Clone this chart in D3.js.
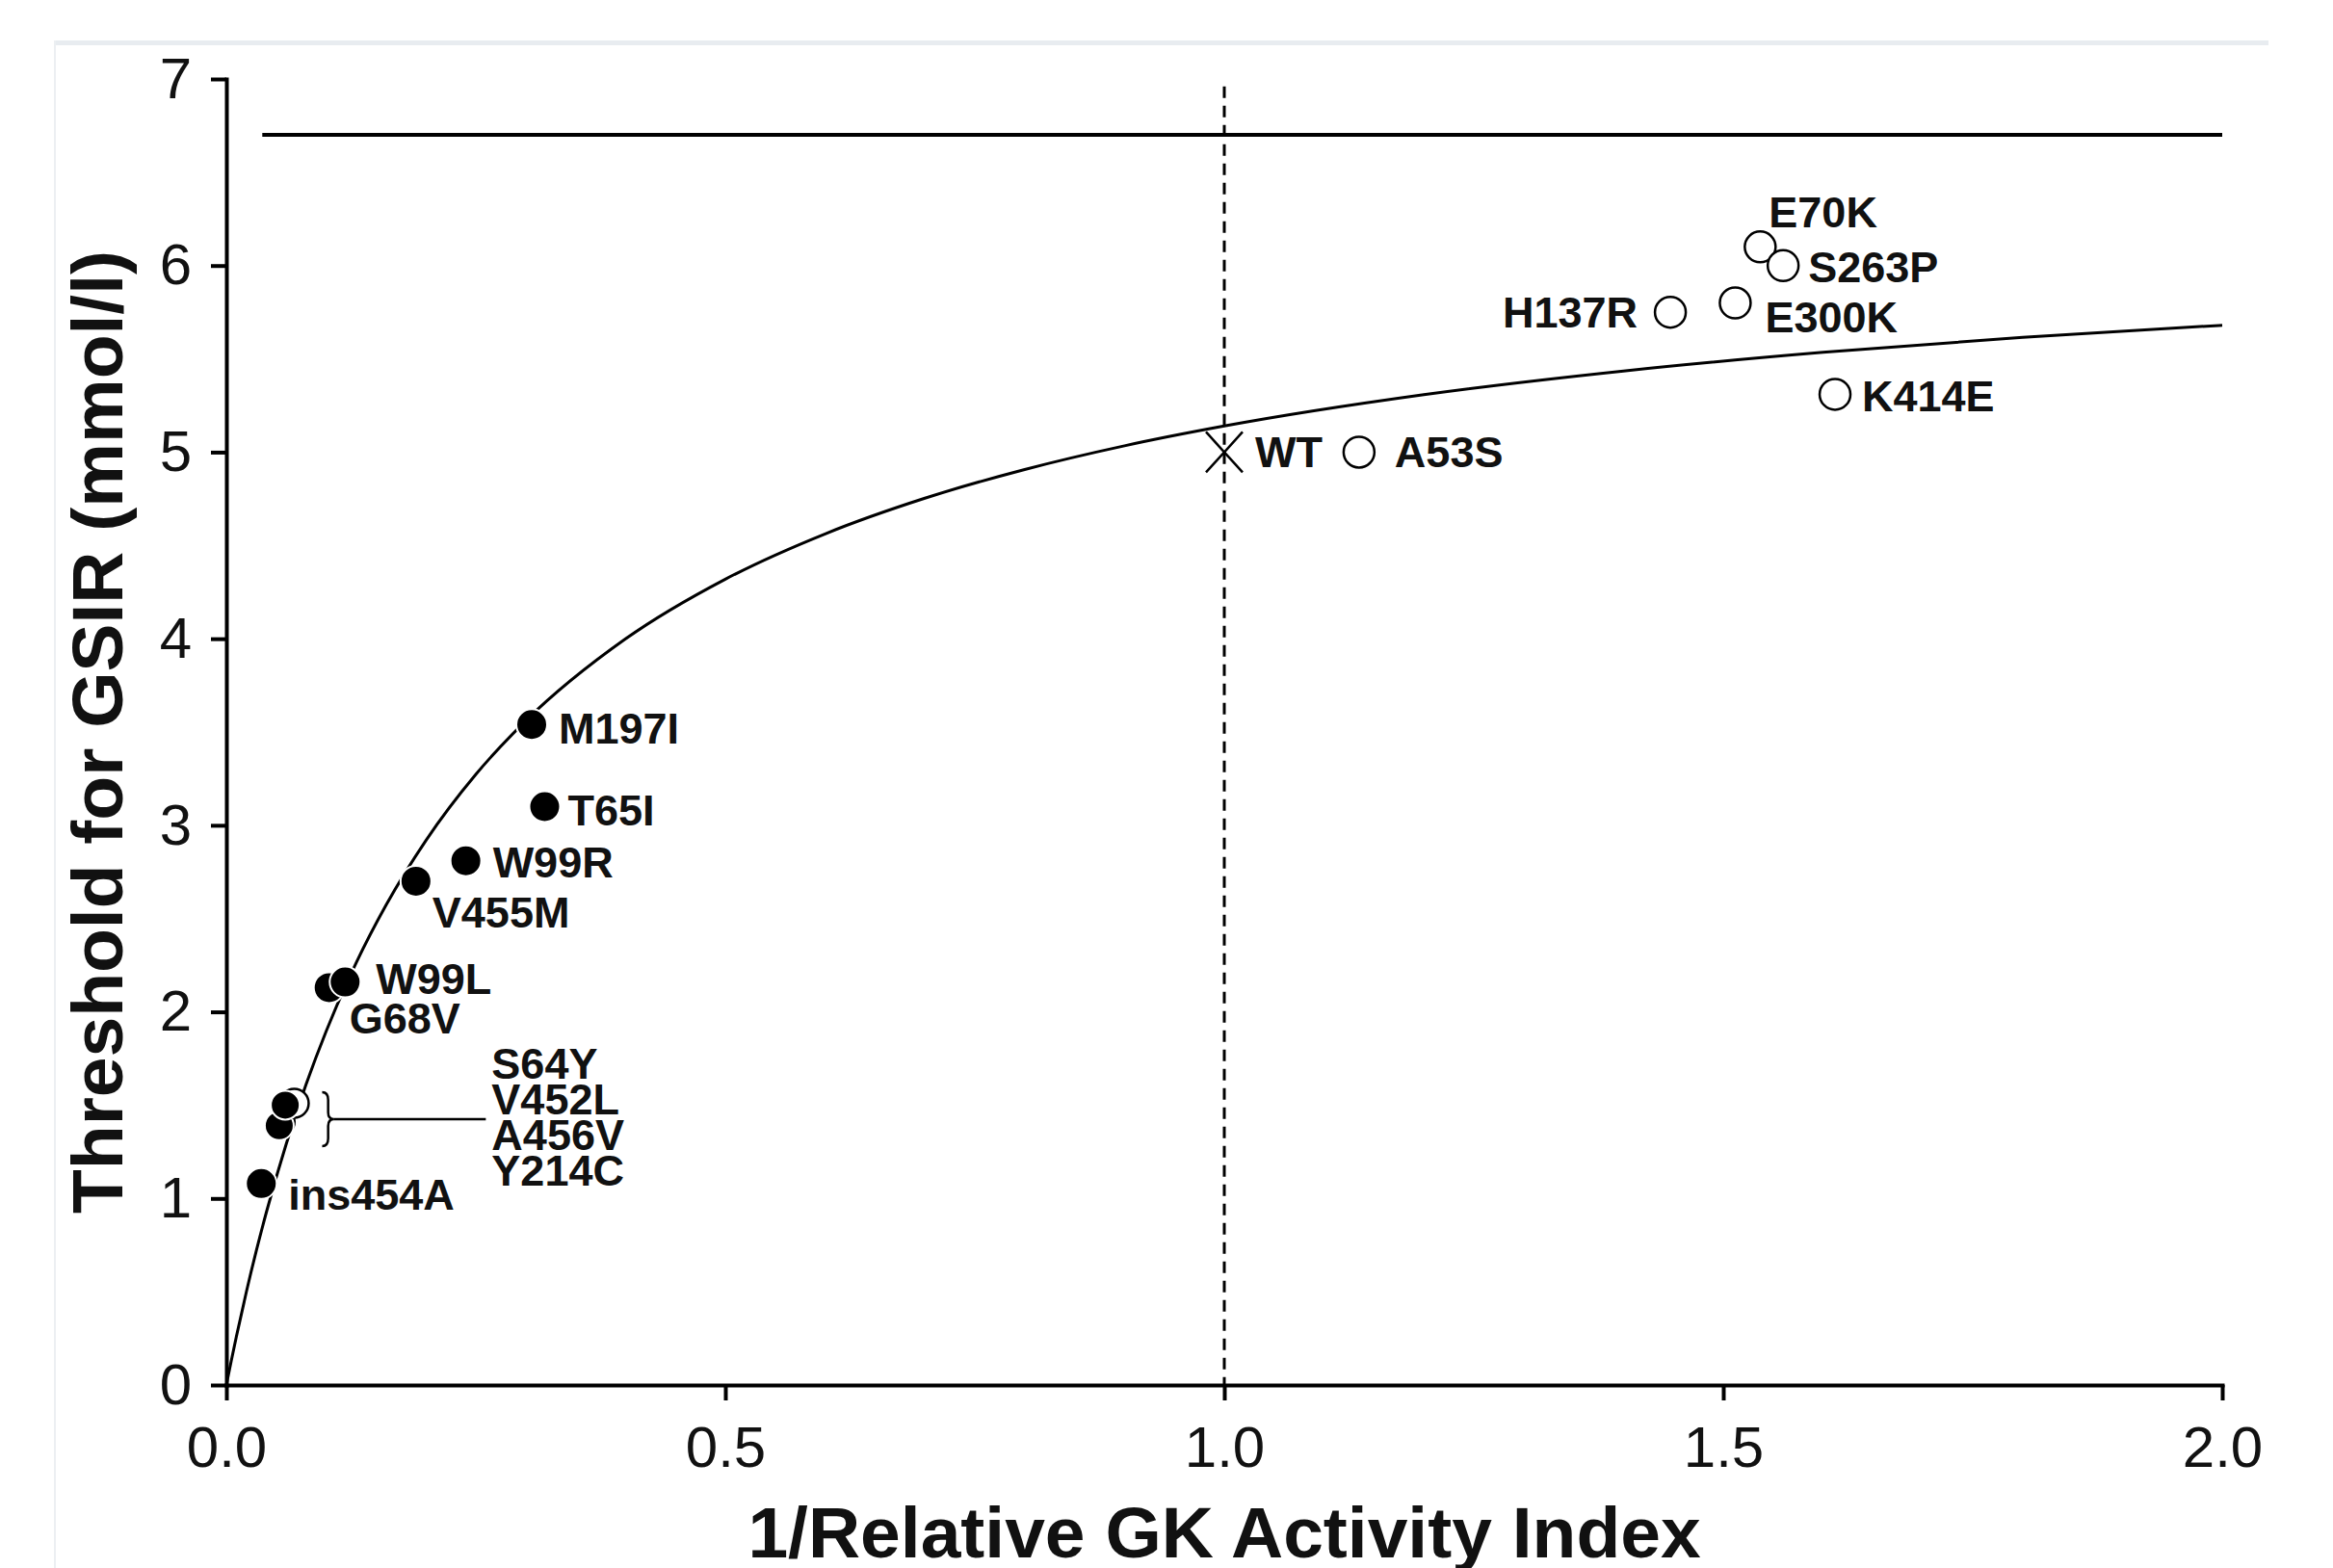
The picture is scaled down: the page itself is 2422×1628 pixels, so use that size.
<!DOCTYPE html>
<html>
<head>
<meta charset="UTF-8">
<style>
body { margin: 0; background: #fff; }
svg { display: block; font-family: "Liberation Sans", Arial, sans-serif; }
.axis path, .axis line { stroke: #000; stroke-width: 4px; }
.axis path { stroke-linecap: square; }
.axis text { font-size: 60px; fill: #111; }
.lab { font-size: 45px; font-weight: bold; fill: #111; }
.title { font-size: 75px; font-weight: bold; fill: #111; }
</style>
</head>
<body>
<svg id="chart"></svg>
<script src="https://d3js.org/d3.v7.min.js"></script>
<script>

// activating mutations (filled dots)
const filledNames = ["M197I", "T65I", "W99R", "V455M", "G68V", "W99L", "ins454A"];
const filledX = [0.306, 0.319, 0.240, 0.190, 0.103, 0.119, 0.035];
const filledY = [3.54, 3.10, 2.81, 2.70, 2.13, 2.16, 1.08];

// the bracketed cluster
const groupNames = ["S64Y", "V452L", "A456V", "Y214C"];
const groupX = [0.056, 0.053, 0.068, 0.059];
const groupY = [1.41, 1.39, 1.51, 1.50];
const groupOpen = [false, false, true, false];

// inactivating mutations (open circles)
const openNames = ["A53S", "H137R", "E300K", "E70K", "S263P", "K414E"];
const openX = [1.135, 1.447, 1.512, 1.537, 1.560, 1.612];
const openY = [5.00, 5.75, 5.80, 6.10, 6.00, 5.31];

// wild type
const wtX = 1.0, wtY = 5.0;

// fitted curve
const curveX = [0, 0.005, 0.01, 0.02, 0.03, 0.04, 0.06, 0.08, 0.1, 0.13, 0.16, 0.2, 0.25, 0.3, 0.4, 0.5, 0.6, 0.7, 0.8, 0.9, 1.0, 1.2, 1.4, 1.6, 1.8, 2.0];
const curveY = [0, 0.132, 0.259, 0.498, 0.719, 0.924, 1.292, 1.613, 1.896, 2.262, 2.572, 2.919, 3.273, 3.560, 3.999, 4.319, 4.562, 4.753, 4.907, 5.034, 5.140, 5.308, 5.435, 5.535, 5.615, 5.680];

// reference levels
const upperLevel = 6.7, upperFrom = 0.036;
const dashTop = 6.96;

const xTicks = [0, 0.5, 1, 1.5, 2];
const yTicks = [0, 1, 2, 3, 4, 5, 6, 7];

// label nudges in px (dx, dy, anchor)
const nudge = {
  "M197I": [28, 20], "T65I": [24, 20], "W99R": [28, 17], "V455M": [17, 48],
  "W99L": [32, 12], "G68V": [21, 48], "ins454A": [28, 27],
  "E70K": [9, -20], "S263P": [26, 17], "H137R": [-34, 16, "end"],
  "E300K": [31, 31], "K414E": [28, 18], "A53S": [37, 16], "WT": [32, 16]
};

let width = 2422, height = 1628;
let svg = d3.select("#chart").attr("width", width).attr("height", height);

// page frame
svg.append("rect").attr("x", 57).attr("y", 42).attr("width", 2298).attr("height", 5).attr("fill", "#e8ecf0");
svg.append("rect").attr("x", 56).attr("y", 42).attr("width", 2).attr("height", height - 42).attr("fill", "#eceff2");

let x = d3.scaleLinear().domain([0, 2]).range([235, 2307]);
let y = d3.scaleLinear().domain([0, 7]).range([1438, 82]);

// axes
svg.append("g").attr("class", "axis")
  .attr("transform", "translate(" + x(0) + ",0)")
  .call(d3.axisLeft(y).tickValues(yTicks).tickFormat(d3.format("d")).tickSize(16).tickPadding(20).tickSizeOuter(0));

svg.append("g").attr("class", "axis")
  .attr("transform", "translate(0," + y(0) + ")")
  .call(d3.axisBottom(x).tickValues(xTicks).tickFormat(d3.format(".1f")).tickSize(16).tickPadding(26).tickSizeOuter(0));

// reference lines
svg.append("line")
  .attr("x1", x(upperFrom)).attr("x2", x(2))
  .attr("y1", y(upperLevel)).attr("y2", y(upperLevel))
  .attr("stroke", "#000").attr("stroke-width", 4);

svg.append("line")
  .attr("x1", x(wtX)).attr("x2", x(wtX))
  .attr("y1", y(dashTop)).attr("y2", y(0))
  .attr("stroke", "#000").attr("stroke-width", 3).attr("stroke-dasharray", "12,8");

// curve
let curvePts = curveX.map((d, i) => [d, curveY[i]]);
svg.append("path")
  .datum(curvePts)
  .attr("fill", "none").attr("stroke", "#000").attr("stroke-width", 3)
  .attr("d", d3.line().x(d => x(d[0])).y(d => y(d[1])).curve(d3.curveMonotoneX));

// bracket cluster
let grp = groupNames.map((n, i) => ({ name: n, x: groupX[i], y: groupY[i], open: groupOpen[i] }));
svg.append("g").selectAll("circle")
  .data(grp).enter().append("circle")
  .attr("cx", d => x(d.x)).attr("cy", d => y(d.y)).attr("r", 15)
  .attr("fill", d => d.open ? "#fff" : "#000")
  .attr("stroke", d => d.open ? "#000" : "#fff")
  .attr("stroke-width", d => d.open ? 2.5 : 2);

// filled dots
let filled = filledNames.map((n, i) => ({ name: n, x: filledX[i], y: filledY[i] }));
svg.append("g").selectAll("circle")
  .data(filled).enter().append("circle")
  .attr("cx", d => x(d.x)).attr("cy", d => y(d.y)).attr("r", 16)
  .attr("fill", "#000").attr("stroke", "#fff").attr("stroke-width", 2);

// open circles
let open = openNames.map((n, i) => ({ name: n, x: openX[i], y: openY[i] }));
svg.append("g").selectAll("circle")
  .data(open).enter().append("circle")
  .attr("cx", d => x(d.x)).attr("cy", d => y(d.y)).attr("r", 16)
  .attr("fill", "#fff").attr("stroke", "#000").attr("stroke-width", 2.5);

// WT cross
svg.append("path")
  .attr("transform", "translate(" + x(wtX) + "," + y(wtY) + ")")
  .attr("d", "M-19,-21L19,21M-19,21L19,-21")
  .attr("stroke", "#000").attr("stroke-width", 2.5).attr("fill", "none");

// labels
let labelled = filled.concat(open).concat([{ name: "WT", x: wtX, y: wtY }]);
svg.append("g").selectAll("text")
  .data(labelled).enter().append("text")
  .attr("class", "lab")
  .attr("x", d => x(d.x) + nudge[d.name][0])
  .attr("y", d => y(d.y) + nudge[d.name][1])
  .attr("text-anchor", d => nudge[d.name][2] || "start")
  .text(d => d.name);

// curly bracket + leader
let bx = x(0.096), bw = x(0.108) - x(0.096), by = y(1.425), bh = 28;
svg.append("path")
  .attr("d", "M" + bx + "," + (by - bh) +
    "Q" + (bx + bw / 2) + "," + (by - bh) + " " + (bx + bw / 2) + "," + (by - bh + 8) +
    "L" + (bx + bw / 2) + "," + (by - 7) +
    "Q" + (bx + bw / 2) + "," + by + " " + (bx + bw) + "," + by +
    "Q" + (bx + bw / 2) + "," + by + " " + (bx + bw / 2) + "," + (by + 7) +
    "L" + (bx + bw / 2) + "," + (by + bh - 8) +
    "Q" + (bx + bw / 2) + "," + (by + bh) + " " + bx + "," + (by + bh))
  .attr("fill", "none").attr("stroke", "#000").attr("stroke-width", 2.5);

svg.append("line")
  .attr("x1", bx + bw).attr("x2", x(0.26))
  .attr("y1", by).attr("y2", by)
  .attr("stroke", "#000").attr("stroke-width", 2.5);

svg.append("g").selectAll("text")
  .data(groupNames).enter().append("text")
  .attr("class", "lab")
  .attr("x", x(0.26) + 6)
  .attr("y", (d, i) => by - 42 + i * 37)
  .text(d => d);

// axis titles
svg.append("text").attr("class", "title")
  .attr("text-anchor", "middle")
  .attr("x", (x(0) + x(2)) / 2).attr("y", 1617)
  .text("1/Relative GK Activity Index");

svg.append("text").attr("class", "title")
  .attr("text-anchor", "middle")
  .attr("transform", "translate(127," + (y(0) + y(7)) / 2 + ") rotate(-90)")
  .text("Threshold for GSIR (mmol/l)");

</script>
</body>
</html>
